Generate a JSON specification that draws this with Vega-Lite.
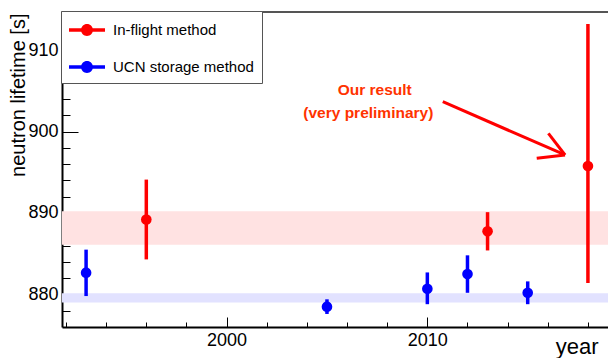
{
  "$schema": "https://vega.github.io/schema/vega-lite/v6.json",
  "width": 546,
  "height": 316,
  "autosize": {"type": "none"},
  "padding": {"left": 62, "top": 11, "right": 0, "bottom": 31},
  "background": "white",
  "config": {
    "view": {"stroke": null},
    "font": "Liberation Sans",
    "axis": {"grid": false, "labelFont": "Liberation Sans", "titleFont": "Liberation Sans", "labelColor": "black", "titleColor": "black", "zindex": 2, "domainColor": "black", "tickColor": "black"}
  },
  "datasets": {
    "points": [
      {"year": 1993, "tau": 882.67, "lo": 879.8, "hi": 885.5, "method": "UCN storage method"},
      {"year": 1996, "tau": 889.2, "lo": 884.3, "hi": 894.1, "method": "In-flight method"},
      {"year": 2005, "tau": 878.5, "lo": 877.6, "hi": 879.4, "method": "UCN storage method"},
      {"year": 2010, "tau": 880.7, "lo": 878.8, "hi": 882.7, "method": "UCN storage method"},
      {"year": 2012, "tau": 882.5, "lo": 880.2, "hi": 884.8, "method": "UCN storage method"},
      {"year": 2013, "tau": 887.75, "lo": 885.4, "hi": 890.1, "method": "In-flight method"},
      {"year": 2015, "tau": 880.2, "lo": 878.8, "hi": 881.6, "method": "UCN storage method"},
      {"year": 2018, "tau": 895.77, "lo": 881.4, "hi": 913.2, "method": "In-flight method"}
    ],
    "bands": [
      {"method": "In-flight method", "lo": 886.1, "hi": 890.2},
      {"method": "UCN storage method", "lo": 879.0, "hi": 880.14}
    ],
    "topedge": [
      {"lo": 914.55, "hi": 914.8}
    ],
    "arrow": [
      {"x1": 2010.77, "y1": 903.66, "x2": 2016.86, "y2": 897.12},
      {"x1": 2016.03, "y1": 899.78, "x2": 2016.86, "y2": 897.12},
      {"x1": 2015.45, "y1": 896.71, "x2": 2016.86, "y2": 897.12}
    ],
    "notes": [
      {"x": 2007.38, "y": 905.1, "label": "Our result"},
      {"x": 2007.06, "y": 902.31, "label": "(very preliminary)"}
    ]
  },
  "resolve": {"axis": {"x": "independent", "y": "independent"}},
  "layer": [
    {
      "data": {"name": "bands"},
      "mark": {"type": "rect"},
      "encoding": {
        "y": {"field": "lo", "type": "quantitative", "scale": {"domain": [876, 914.8], "nice": false, "zero": false}, "axis": null},
        "y2": {"field": "hi"},
        "fill": {"condition": {"test": "datum.method === 'In-flight method'", "value": "#ffe2e2"}, "value": "#e2e2ff"}
      }
    },
    {
      "data": {"name": "topedge"},
      "mark": {"type": "rect", "color": "#555555"},
      "encoding": {
        "y": {"field": "lo", "type": "quantitative", "axis": null},
        "y2": {"field": "hi"}
      }
    },
    {
      "data": {"name": "points"},
      "mark": {"type": "rule", "strokeWidth": 3.5},
      "encoding": {
        "x": {"field": "year", "type": "quantitative", "scale": {"domain": [1991.8, 2019], "nice": false, "zero": false},
          "axis": {"orient": "bottom", "values": [2000, 2010], "format": "d", "tickSize": -10, "tickWidth": 1, "labelPadding": 14, "labelFontSize": 18, "domainWidth": 2,
            "title": "year", "titleFontSize": 22, "titleFontWeight": "normal", "titleAlign": "right", "titleBaseline": "alphabetic", "titleX": 536, "titleY": 26}},
        "y": {"field": "lo", "type": "quantitative", "scale": {"domain": [876, 914.8], "nice": false, "zero": false},
          "axis": {"orient": "left", "values": [880, 890, 900, 910], "tickSize": -16, "tickWidth": 1, "labelPadding": 20, "labelFontSize": 18, "domainWidth": 2,
            "title": "neutron lifetime [s]", "titleFontSize": 20, "titleFontWeight": "normal", "titleAngle": -90, "titleAlign": "right", "titleBaseline": "alphabetic", "titleX": -38, "titleY": 2}},
        "y2": {"field": "hi"},
        "color": {"field": "method", "type": "nominal",
          "scale": {"domain": ["In-flight method", "UCN storage method"], "range": ["#ff0000", "#0000ff"]},
          "legend": {
            "title": null, "orient": "none", "legendX": -1, "legendY": 0, "zindex": 3,
            "padding": 8, "fillColor": "white", "strokeColor": "#555555", "cornerRadius": 0,
            "symbolType": "M-1,-0.16H2.273V0.16H-1Z M0.091,0A0.545,0.545,0,1,1,1.181,0A0.545,0.545,0,1,1,0.091,0Z",
            "symbolSize": 484, "symbolOpacity": 1, "symbolStrokeWidth": 0,
            "rowPadding": 18, "labelOffset": 22, "labelFontSize": 15, "labelFont": "Liberation Sans", "labelColor": "black",
            "labelExpr": "datum.label + '\u00a0'",
            "encode": {"symbols": {"update": {"fill": {"scale": "color", "field": "value"}, "stroke": {"value": "transparent"}, "opacity": {"value": 1}}}}
          }
        }
      }
    },
    {
      "data": {"name": "points"},
      "mark": {"type": "point", "filled": true, "opacity": 1, "size": 113, "shape": "circle"},
      "encoding": {
        "x": {"field": "year", "type": "quantitative",
          "axis": {"orient": "bottom", "values": [1992, 1994, 1996, 1998, 2000, 2002, 2004, 2006, 2008, 2010, 2012, 2014, 2016, 2018], "tickSize": -5, "tickWidth": 1, "labels": false, "domain": false, "title": null}},
        "y": {"field": "tau", "type": "quantitative",
          "axis": {"orient": "left", "values": [878, 880, 882, 884, 886, 888, 890, 892, 894, 896, 898, 900, 902, 904, 906, 908, 910, 912, 914], "tickSize": -8, "tickWidth": 1, "labels": false, "domain": false, "title": null}},
        "color": {"field": "method", "type": "nominal"}
      }
    },
    {
      "data": {"name": "arrow"},
      "mark": {"type": "rule", "color": "#ff0000", "strokeWidth": 3},
      "encoding": {
        "x": {"field": "x1", "type": "quantitative", "axis": null},
        "y": {"field": "y1", "type": "quantitative", "axis": null},
        "x2": {"field": "x2"},
        "y2": {"field": "y2"}
      }
    },
    {
      "data": {"name": "notes"},
      "mark": {"type": "text", "color": "#ff3300", "fontSize": 15.5, "fontWeight": "bold", "font": "Liberation Sans", "align": "center", "baseline": "middle"},
      "encoding": {
        "x": {"field": "x", "type": "quantitative", "axis": null},
        "y": {"field": "y", "type": "quantitative", "axis": null},
        "text": {"field": "label"}
      }
    }
  ]
}
